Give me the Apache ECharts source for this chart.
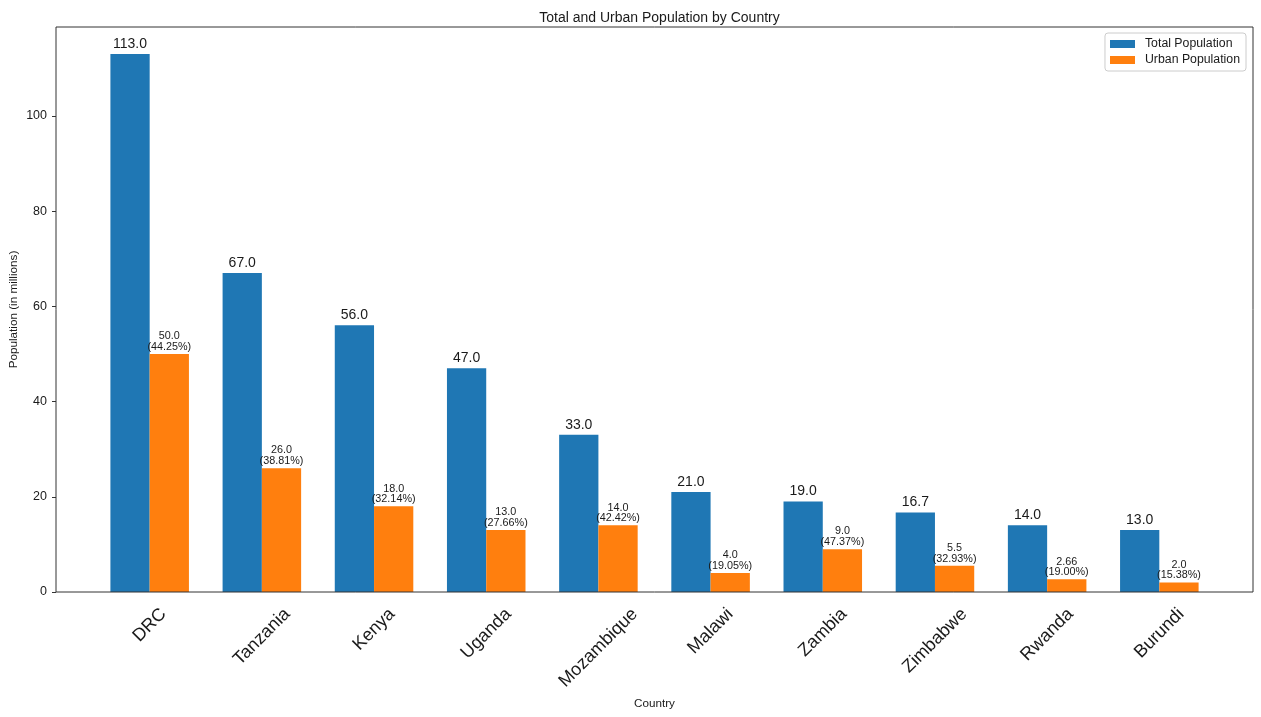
<!DOCTYPE html>
<html>
<head>
<meta charset="utf-8">
<script src="https://cdn.jsdelivr.net/npm/echarts@6/dist/echarts.min.js"></script>
<style>
  html, body { margin: 0; padding: 0; background: #fff; }
  #chart { width: 1261px; height: 717px; }
</style>
</head>
<body>
<div id="chart"></div>
<script>
var categories = ['DRC', 'Tanzania', 'Kenya', 'Uganda', 'Mozambique', 'Malawi', 'Zambia', 'Zimbabwe', 'Rwanda', 'Burundi'];
var totalPop = [113, 67, 56, 47, 33, 21, 19, 16.7, 14, 13];
var urbanPop = [50, 26, 18, 13, 14, 4, 9, 5.5, 2.66, 2.0];
var yMax = 118.65;
var yStep = 20;

var FONT = '"Liberation Sans", Arial, sans-serif';
var TXT = '#1a1a1a';

// python-ish float text: 50 -> "50.0", 2.66 -> "2.66"
function pyStr(v) {
	return Number.isInteger(v) ? v.toFixed(1) : String(v);
}

// plot box (matplotlib axes) and inner category band
var boxL = 56, boxT = 27, boxR = 1253, boxB = 592;
var catW = (boxR - boxL) / 10.67;
var pad = 0.335 * catW;

// rotated x labels: centre them under the tick like matplotlib does
var xFs = 18;
var ctx = document.createElement('canvas').getContext('2d');
ctx.font = xFs + 'px ' + FONT;
var rich = {};
categories.forEach(function (c, i) {
	var L = ctx.measureText(c).width;
	var D = 13 + 0.3536 * (L + xFs);
	var s = D / 1.4142;
	rich['c' + i] = {
		fontSize: xFs,
		fontFamily: FONT,
		color: TXT,
		padding: [2 * s, 2 * s, 0, 0]
	};
});

var option = {
	animation: false,
	textStyle: { fontFamily: FONT },
	title: {
		text: 'Total and Urban Population by Country',
		left: (boxL + boxR) / 2,
		textAlign: 'center',
		top: 6,
		textStyle: { fontSize: 14, fontWeight: 'normal', color: TXT, fontFamily: FONT }
	},
	legend: {
		orient: 'vertical',
		right: 15,
		top: 33,
		padding: [5, 6, 5, 5],
		itemWidth: 25,
		itemHeight: 8,
		itemGap: 4,
		icon: 'rect',
		borderColor: '#cccccc',
		borderWidth: 1,
		borderRadius: 3,
		backgroundColor: '#fff',
		data: ['Total Population', 'Urban Population'],
		textStyle: { fontSize: 12.3, color: TXT, fontFamily: FONT, padding: [0, 0, 0, 5] }
	},
	grid: {
		left: boxL + pad,
		right: 1261 - boxR + pad,
		top: boxT,
		bottom: 717 - boxB,
		containLabel: false,
		outerBoundsMode: 'none'
	},
	graphic: [{
		type: 'rect',
		shape: { x: boxL, y: boxT, width: boxR - boxL, height: boxB - boxT },
		style: { fill: 'none', stroke: '#333', lineWidth: 1 },
		z: 100
	}],
	xAxis: {
		type: 'category',
		data: categories,
		name: 'Country',
		nameLocation: 'middle',
		nameGap: 106,
		nameMoveOverlap: false,
		nameTextStyle: { fontSize: 11.7, color: TXT, fontFamily: FONT },
		axisLine: { show: false },
		axisTick: { alignWithLabel: true, length: 4, lineStyle: { color: '#333' } },
		axisLabel: {
			interval: 0,
			rotate: 45,
			margin: 0,
			align: 'center',
			verticalAlign: 'middle',
			rich: rich,
			formatter: function (v, i) {
				return '{c' + i + '|' + v + '}';
			}
		}
	},
	yAxis: {
		type: 'value',
		min: 0,
		max: yMax,
		interval: yStep,
		offset: pad,
		name: 'Population (in millions)',
		nameLocation: 'middle',
		nameGap: 36,
		nameMoveOverlap: false,
		nameTextStyle: { fontSize: 11.7, color: TXT, fontFamily: FONT },
		axisLine: { show: false },
		axisTick: { show: true, length: 4, lineStyle: { color: '#333' } },
		splitLine: { show: false },
		axisLabel: {
			fontSize: 12.5,
			color: TXT,
			margin: 9,
			showMaxLabel: false
		}
	},
	series: [{
		name: 'Total Population',
		type: 'bar',
		data: totalPop,
		barGap: '0%',
		barCategoryGap: '30%',
		itemStyle: { color: '#1f77b4' },
		label: {
			show: true,
			position: 'top',
			distance: 3,
			fontSize: 14,
			color: TXT,
			formatter: function (p) { return p.value.toFixed(1); }
		}
	}, {
		name: 'Urban Population',
		type: 'bar',
		data: urbanPop,
		itemStyle: { color: '#ff7f0e' },
		label: {
			show: true,
			position: 'top',
			distance: 2,
			fontSize: 10.8,
			lineHeight: 10.5,
			color: TXT,
			formatter: function (p) {
				var pct = (p.value / totalPop[p.dataIndex] * 100).toFixed(2);
				return pyStr(p.value) + '\n(' + pct + '%)';
			}
		}
	}]
};

var myChart = echarts.init(document.getElementById('chart'));
myChart.setOption(option);
</script>
</body>
</html>
